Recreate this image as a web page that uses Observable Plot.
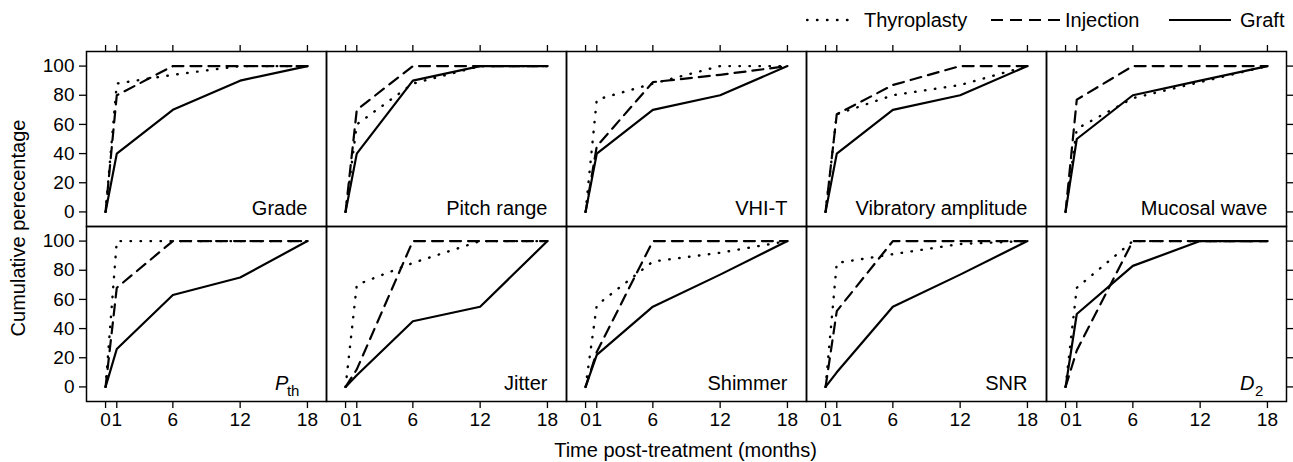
<!DOCTYPE html>
<html>
<head>
<meta charset="utf-8">
<script src="https://cdn.jsdelivr.net/npm/d3@7"></script>
<script src="https://cdn.jsdelivr.net/npm/@observablehq/plot@0.6"></script>
<style>
  html, body { margin: 0; padding: 0; background: #fff; }
  #wrap { position: relative; width: 1293px; height: 462px; font-family: "Liberation Sans", Arial, sans-serif; color: #000; }
  #chart { position: absolute; left: 0; top: 0; }
  .lab { position: absolute; font-size: 20px; line-height: 24px; white-space: nowrap; }
  .sw { position: absolute; }
</style>
</head>
<body>
<div id="wrap">
  <div id="chart"></div>
  <svg class="sw" style="left:806px;top:14px" width="46" height="12"><line x1="1" y1="6" x2="45" y2="6" stroke="#000" stroke-width="2.4" stroke-dasharray="0.5,9.5" stroke-linecap="round"/></svg>
  <div class="lab" style="left:864px;top:8px">Thyroplasty</div>
  <svg class="sw" style="left:991px;top:14px" width="72" height="12"><line x1="0" y1="6" x2="72" y2="6" stroke="#000" stroke-width="2.2" stroke-dasharray="12,7"/></svg>
  <div class="lab" style="left:1065px;top:8px">Injection</div>
  <svg class="sw" style="left:1169px;top:14px" width="62" height="12"><line x1="0" y1="6" x2="62" y2="6" stroke="#000" stroke-width="2.2"/></svg>
  <div class="lab" style="left:1240px;top:8px">Graft</div>
  <div class="lab" style="left:84px;width:1203px;top:438px;text-align:center">Time post-treatment (months)</div>
  <div class="lab" style="left:-132px;width:300px;top:216px;text-align:center;transform:rotate(-90deg)">Cumulative perecentage</div>
</div>
<script>
const panels = ["Grade","Pitch range","VHI-T","Vibratory amplitude","Mucosal wave","Pth","Jitter","Shimmer","SNR","D2"];
const labelMain = ["Grade","Pitch range","VHI-T","Vibratory amplitude","Mucosal wave","P","Jitter","Shimmer","SNR","D"];
const labelSub = ["","","","","","th","","","","2"];
const months = [0, 1, 6, 12, 18];
const yTicks = [0, 20, 40, 60, 80, 100];
const seriesNames = ["Thyroplasty", "Injection", "Graft"];
const thyroplasty = [
  [0, 88, 94, 100, 100],
  [0, 60, 88, 100, 100],
  [0, 77, 88, 100, 100],
  [0, 67, 80, 87, 100],
  [0, 57, 78, 89, 100],
  [0, 100, 100, 100, 100],
  [0, 70, 85, 100, 100],
  [0, 56, 86, 92, 100],
  [0, 85, 91, 98, 100],
  [0, 68, 100, 100, 100]
];
const injection = [
  [0, 80, 100, 100, 100],
  [0, 70, 100, 100, 100],
  [0, 45, 89, 94, 100],
  [0, 67, 87, 100, 100],
  [0, 77, 100, 100, 100],
  [0, 68, 100, 100, 100],
  [0, 12, 100, 100, 100],
  [0, 24, 100, 100, 100],
  [0, 52, 100, 100, 100],
  [0, 25, 100, 100, 100]
];
const graft = [
  [0, 40, 70, 90, 100],
  [0, 40, 90, 100, 100],
  [0, 40, 70, 80, 100],
  [0, 40, 70, 80, 100],
  [0, 50, 80, 90, 100],
  [0, 26, 63, 75, 100],
  [0, 8, 45, 55, 100],
  [0, 22, 55, 77, 100],
  [0, 10, 55, 77, 100],
  [0, 50, 83, 100, 100]
];

const seriesValues = {Thyroplasty: thyroplasty, Injection: injection, Graft: graft};
const rows = [];
panels.forEach((p, i) => {
  seriesNames.forEach(s => {
    months.forEach((m, j) => {
      rows.push({panel: p, col: i % 5, row: Math.floor(i / 5), series: s, time: m, value: seriesValues[s][i][j]});
    });
  });
});
const labels = panels.map((p, i) => ({panel: p, col: i % 5, row: Math.floor(i / 5), main: labelMain[i], sub: labelSub[i]}));

const lineStyle = {
  Thyroplasty: {strokeWidth: 2.4, strokeDasharray: "0.5,9.5", strokeLinecap: "round"},
  Injection: {strokeWidth: 2.2, strokeDasharray: "11,7"},
  Graft: {strokeWidth: 2.2}
};

const chart = Plot.plot({
  width: 1293,
  height: 462,
  marginLeft: 84,
  marginRight: 6,
  marginTop: 51,
  marginBottom: 61,
  style: {fontFamily: "'Liberation Sans', Arial, sans-serif", fontSize: "19px", color: "#000", background: "transparent"},
  fx: {domain: [0, 1, 2, 3, 4], padding: 0, paddingInner: 0, paddingOuter: 0, axis: null},
  fy: {domain: [0, 1], padding: 0, paddingInner: 0, paddingOuter: 0, axis: null},
  x: {domain: [-1.7, 19.7]},
  y: {domain: [-10, 110]},
  marks: [
    ...seriesNames.map(s => Plot.line(rows.filter(d => d.series === s), {
      x: "time", y: "value", fx: "col", fy: "row", z: "panel",
      stroke: "#000", strokeLinejoin: "round", ...lineStyle[s]
    })),
    Plot.frame({stroke: "#000", strokeWidth: 1.5}),
    Plot.axisX({anchor: "bottom", facetAnchor: "bottom", ticks: months, tickSize: 7, tickPadding: 4, fontSize: 19, label: null, strokeWidth: 1.3}),
    Plot.axisX({anchor: "top", facetAnchor: "top", ticks: months, tickSize: 7, tickFormat: () => "", label: null, strokeWidth: 1.3}),
    Plot.axisY({anchor: "left", facetAnchor: "left", ticks: yTicks, tickSize: 7, tickPadding: 5, fontSize: 19, label: null, strokeWidth: 1.3}),
    Plot.axisY({anchor: "right", facetAnchor: "right", ticks: yTicks, tickSize: 7, tickFormat: () => "", label: null, strokeWidth: 1.3}),
    Plot.text(labels.filter(d => !d.sub), {
      x: () => 18, y: () => -2, fx: "col", fy: "row", text: "main",
      textAnchor: "end", lineAnchor: "bottom", fontSize: 20, fill: "#000"
    }),
    Plot.text(labels.filter(d => d.sub === "th"), {
      x: () => 18, y: () => -2, fx: "col", fy: "row", text: "main", dx: -19,
      textAnchor: "end", lineAnchor: "bottom", fontSize: 20, fontStyle: "italic", fill: "#000"
    }),
    Plot.text(labels.filter(d => d.sub === "th"), {
      x: () => 18, y: () => -2, fx: "col", fy: "row", text: "sub", dx: -8, dy: 6,
      textAnchor: "end", lineAnchor: "bottom", fontSize: 15, fill: "#000"
    }),
    Plot.text(labels.filter(d => d.sub === "2"), {
      x: () => 18, y: () => -2, fx: "col", fy: "row", text: "main", dx: -13,
      textAnchor: "end", lineAnchor: "bottom", fontSize: 20, fontStyle: "italic", fill: "#000"
    }),
    Plot.text(labels.filter(d => d.sub === "2"), {
      x: () => 18, y: () => -2, fx: "col", fy: "row", text: "sub", dx: -4, dy: 6,
      textAnchor: "end", lineAnchor: "bottom", fontSize: 15, fill: "#000"
    })
  ]
});
document.getElementById("chart").appendChild(chart);
</script>
</body>
</html>
